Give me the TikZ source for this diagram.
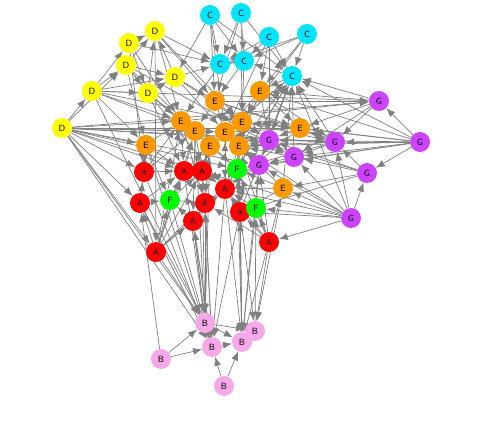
\documentclass[tikz,border=0pt]{standalone}
\usepackage{tikz}
\usetikzlibrary{arrows.meta, backgrounds}
\definecolor{clrA}{RGB}{255,0,0}
\definecolor{clrB}{RGB}{246,168,232}
\definecolor{clrC}{RGB}{0,228,255}
\definecolor{clrD}{RGB}{255,255,0}
\definecolor{clrE}{RGB}{255,153,0}
\definecolor{clrF}{RGB}{0,255,0}
\definecolor{clrG}{RGB}{204,68,255}

\begin{document}
\begin{tikzpicture}[x=1pt, y=-1pt,
    vtx/.style={circle, minimum size=20pt, inner sep=0pt, font=\sffamily\fontsize{9}{9}\selectfont},
    lnk/.style={draw=gray, line width=0.7pt, -{Latex[length=9pt,width=7pt]}}]
  \useasboundingbox (0,0) rectangle (482,430);

  % vertices
  \foreach \n/\x/\y in {a1/144/172, a2/184/171, a3/202/171, a4/225/189, a5/140/203,
      a6/205/203, a7/240/212, a8/193/221, a9/269/242, a10/156/252}
    \node[vtx, fill=clrA] (\n) at (\x,\y) {A};
  \foreach \n/\x/\y in {b1/205/323, b2/255/331, b3/242/342, b4/212/347, b5/161/359, b6/224/386}
    \node[vtx, fill=clrB] (\n) at (\x,\y) {B};
  \foreach \n/\x/\y in {c1/210/15, c2/241/13, c3/269/37, c4/307/34, c5/220/64, c6/244/61, c7/292/76}
    \node[vtx, fill=clrC] (\n) at (\x,\y) {C};
  \foreach \n/\x/\y in {d1/155/31, d2/129/43, d3/126/65, d4/175/77, d5/92/91, d6/148/93, d7/62/128}
    \node[vtx, fill=clrD] (\n) at (\x,\y) {D};
  \foreach \n/\x/\y in {e1/215/101, e2/260/91, e3/181/121, e4/195/131, e5/225/132, e6/242/122,
      e7/300/128, e8/146/145, e9/210/146, e10/239/146, e11/283/188}
    \node[vtx, fill=clrE] (\n) at (\x,\y) {E};
  \foreach \n/\x/\y in {f1/237/169, f2/170/200, f3/256/208}
    \node[vtx, fill=clrF] (\n) at (\x,\y) {F};
  \foreach \n/\x/\y in {g1/379/101, g2/420/142, g3/335/142, g4/269/140, g5/294/157,
      g6/259/165, g7/367/173, g8/351/218}
    \node[vtx, fill=clrG] (\n) at (\x,\y) {G};

  % links
  \begin{pgfonlayer}{background}
  \foreach \s/\t in {c1/c5, c1/c6, c1/e1, c1/c7, c1/e5, c1/d4, c2/c5, c2/c6, c2/e1, c2/c7, c2/e6,
      c3/c5, c3/c6, c3/c7, c3/e2, c3/e5, c3/g4, c4/c7, c4/c6, c4/c5, c4/e2, c4/e6,
      c5/c6, c6/c5, c7/c6, c7/e2, c6/e1, c5/e3, c6/e6, c7/e5, c7/g4,
      e5/c7, e10/c7, a4/c7, f1/c7, g6/c7, g5/c7, g8/c7, e11/c7, g3/c7, a7/c7}
    \draw[lnk] (\s) -- (\t);
  \foreach \s/\t in {d5/d2, d5/d3, d7/d5, d7/d3, d2/d1, d3/d1, d3/d6, d2/d6, d5/d6, d3/d4, d5/d4,
      d6/d1, d4/d1, d6/d4, d1/e1, d1/e3, d1/c5, d2/c5, d2/e3, d3/e4, d3/e8, d4/e1, d4/e5, d4/c5,
      d5/e3, d5/e8, d5/e4, d6/e3, d6/e4, d6/e9, d7/e3, d7/e8, d7/e4, d7/a1, d7/a2, d7/a3, d7/g6,
      d7/g3, d7/g1, d7/e7, d7/f1, d7/a5, d7/e5, d7/g4, d7/a10, d7/b1, d7/b4, d5/b1, d5/g1, d5/e6,
      d3/g5, d2/a1, d1/e6, d4/g4, d6/a2, d3/a4, d1/a10}
    \draw[lnk] (\s) -- (\t);
  \foreach \s/\t in {e1/e6, e1/e5, e2/e6, e2/e5, e3/e4, e4/e9, e5/e10, e6/e10, e8/e3, e3/e9, e1/e4,
      e2/e10, e7/e6, e7/e5, e7/g4, e9/e5, e10/e5, e4/e5, e11/e10, e11/f1, e8/a1, e8/a2, e3/a2,
      e4/a3, e9/a3, e10/f1, e5/a4, e6/g4, e2/g4, e3/g1, e1/g1, e1/g3, e2/g3, e6/g3, e5/g5, e10/g6,
      e4/f1, e9/f1, e9/a6, e3/a6, e8/f2, e4/a8, e10/a4, e11/a7, e11/a4, e7/a4, e2/e7, e7/g3,
      e6/e7, e1/e7}
    \draw[lnk] (\s) -- (\t);
  \foreach \s/\t in {g2/g1, g2/g3, g2/g7, g2/c7, g2/e7, g2/g4, g2/e2, g2/e6, g2/g5, g2/f1, g2/e10,
      g2/g6, g1/c7, g1/g3, g1/e7, g1/e2, g1/g5, g3/g5, g3/g4, g3/e7, g3/f1, g3/e10,
      g7/g3, g7/g5, g7/e11, g7/a7, g7/g4, g7/e5, g8/g3, g8/g5, g8/a9, g8/f3, g8/e10, g8/a4,
      g8/a7, g8/g7, g8/g6, g8/e11, g8/a3, g4/g6, g5/g6, g6/f1, g4/e10, g5/e10, g6/a4, g4/e5, g6/e5}
    \draw[lnk] (\s) -- (\t);
  \foreach \s/\t in {a1/a2, a2/a3, a5/f2, a5/a2, a5/e8, a5/a1, a1/e3, a2/e4, a3/e9, a3/a4, a6/a3,
      a6/a4, a8/a6, a8/f2, a8/a4, a7/a4, a7/f3, a7/f1, a4/f1, f2/a2, f2/a3, f2/a6, f3/a4, f3/g6,
      f1/e10, a6/e9, a4/e5, a2/e9, a1/e4, a10/a8, a10/a6, a10/a5, a10/f2, a10/e3, a10/a3,
      a10/a4, a10/e4, a10/a2, a9/a7, a9/f3, a9/e10, a9/a4, a9/f1, a9/e11, a9/g6, a9/a6}
    \draw[lnk] (\s) -- (\t);
  \foreach \s/\t in {b5/b1, b5/b4, b6/b4, b6/b3, b4/b3, b4/b1, b1/b3, b2/b3, b1/b2,
      a10/b1, a5/b1, a8/b1, a6/b1, a6/b4, a7/b3, a7/b2, a4/b4, a3/b1, a9/b2, a2/b1, f2/b4,
      f3/b3, e9/b1, e10/b3, a1/b4, g6/b3, a9/b3, a8/b4, a7/b4, e8/b4, e11/b2, a4/b3, f1/b3,
      e4/b1, a5/b4, b1/a8, b4/a6, b3/a7, b2/f3, b1/a6, b5/a5, b4/a8}
    \draw[lnk] (\s) -- (\t);
  \end{pgfonlayer}
\end{tikzpicture}
\end{document}
